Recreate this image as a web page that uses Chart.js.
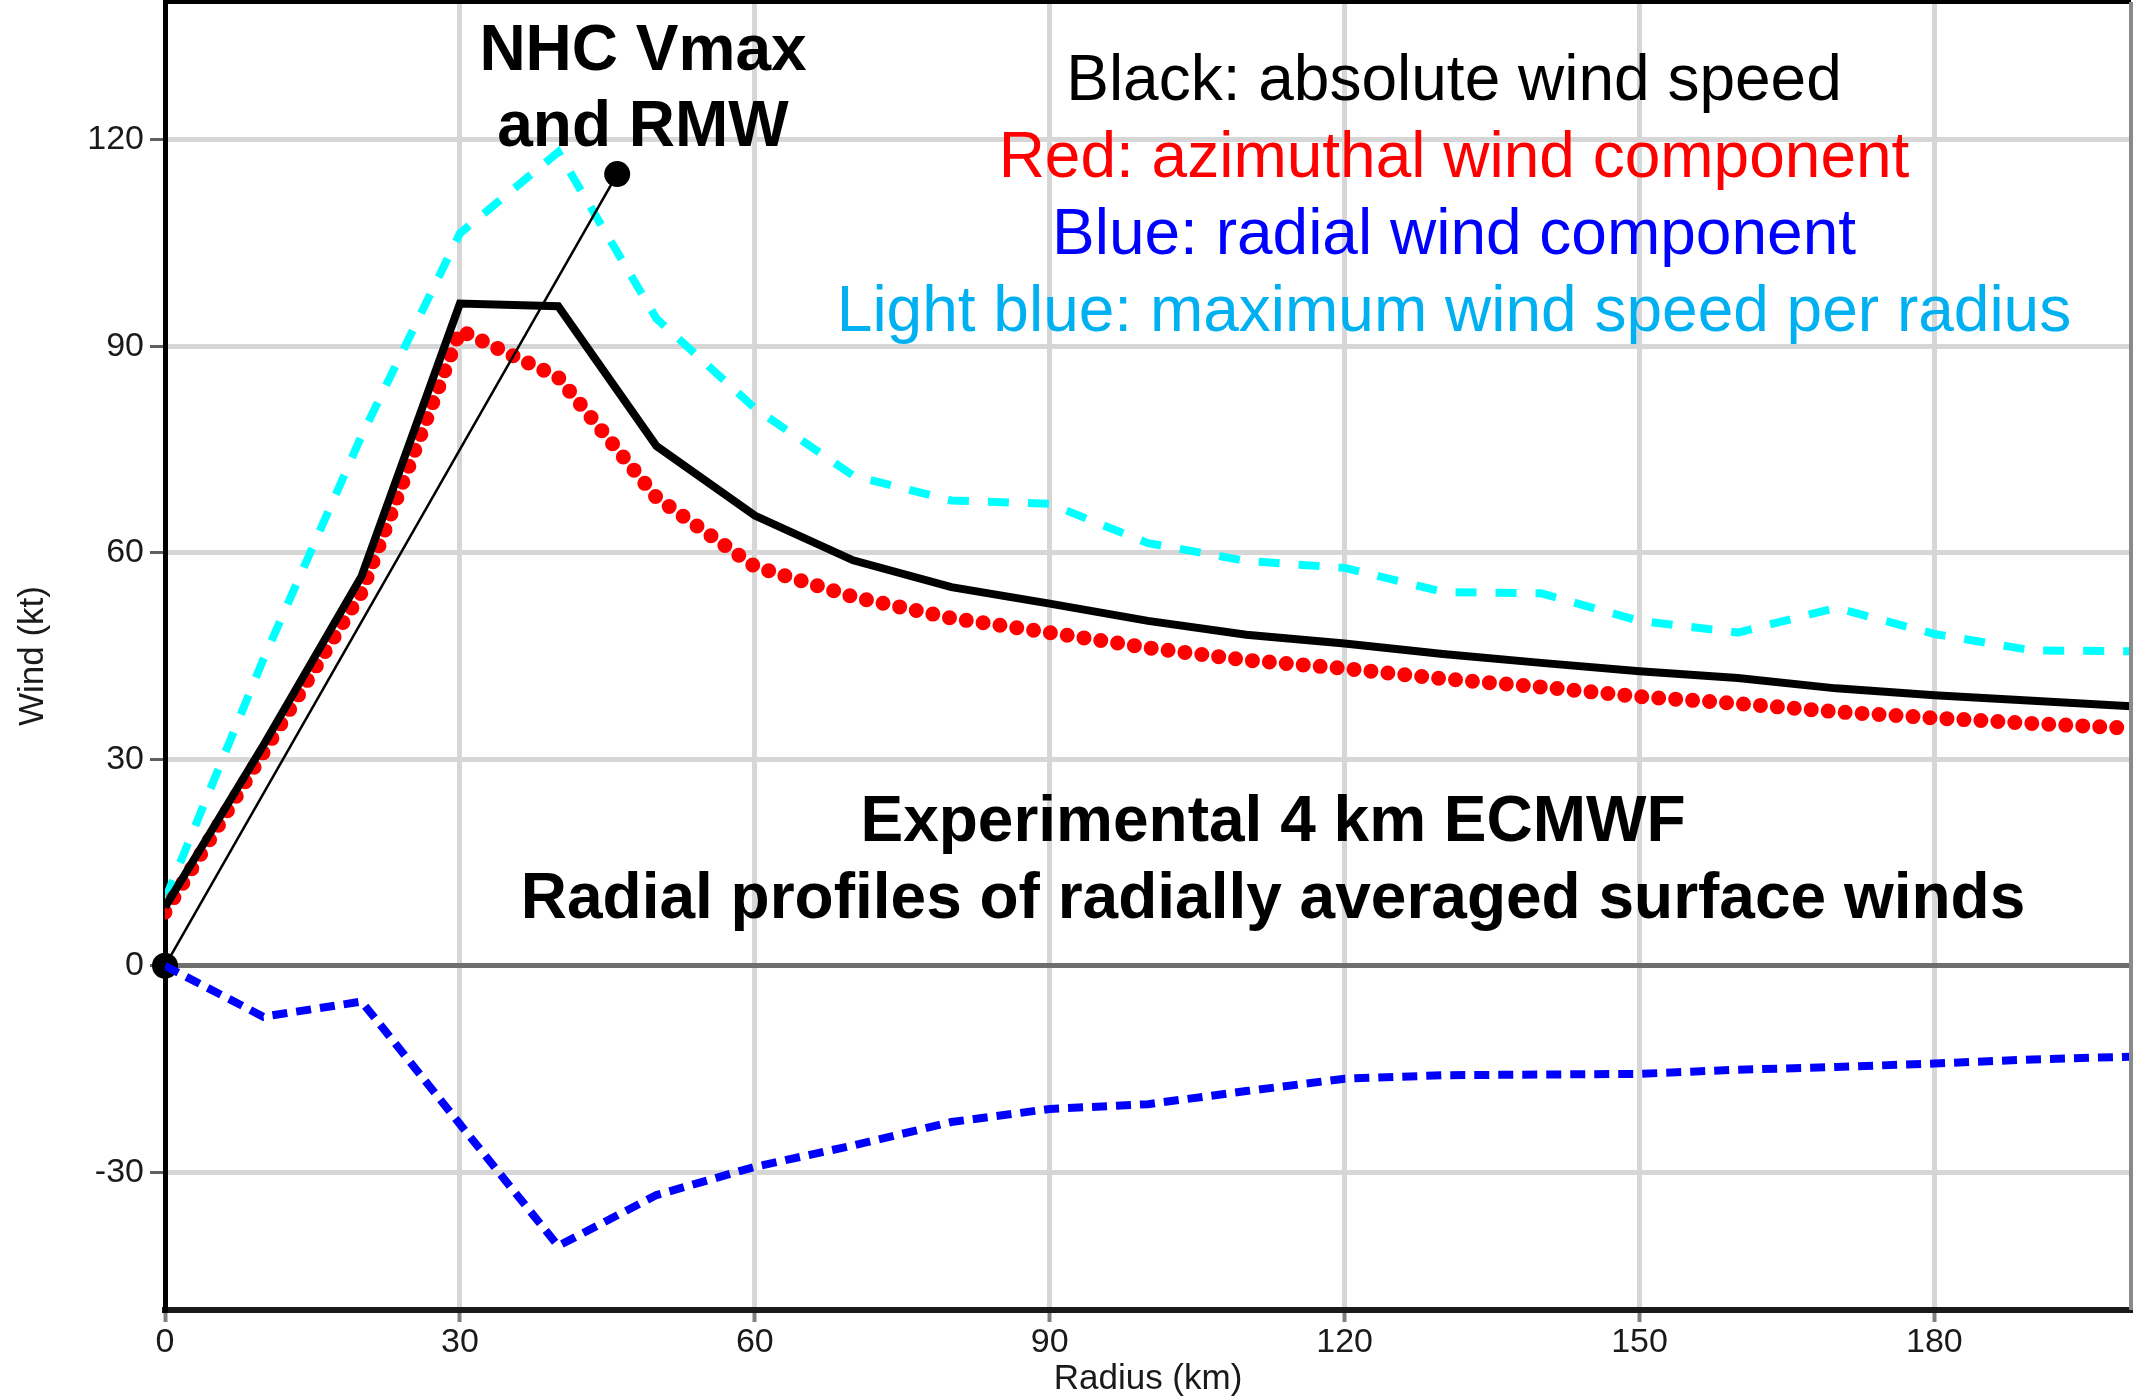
<!DOCTYPE html>
<html>
<head>
<meta charset="utf-8">
<title>Radial profiles of surface winds</title>
<script src="https://cdn.jsdelivr.net/npm/chart.js@4.4.1/dist/chart.umd.min.js"></script>
<style>
  html, body { margin: 0; padding: 0; background: #fff; overflow: hidden; }
  #wrap { width: 2133px; height: 1397px; }
  #windChart { display: block; }
</style>
</head>
<body>
<div id="wrap"><canvas id="windChart" width="2133" height="1397"></canvas></div>
<script>
// radius (km) and the four wind profiles (kt)
const radiusKm = [0, 10, 20, 30, 40, 50, 60, 70, 80, 90, 100, 110, 120, 130, 140, 150, 160, 170, 180, 190, 200];
const absoluteWind = [8.5, 32, 56.6, 96.2, 95.8, 75.5, 65.4, 58.9, 55, 52.6, 50.1, 48.1, 46.8, 45.3, 44, 42.8, 41.8, 40.3, 39.3, 38.5, 37.7];
const azimuthalWind = [7.8, 31, 54.3, 92.3, 85.5, 68, 58, 53.6, 50.5, 48.4, 46.2, 44.4, 43.2, 41.7, 40.5, 39.1, 38.1, 36.9, 36, 35.2, 34.5];
const radialWind = [0, -7.4, -5.2, -23, -40.7, -33.3, -29.2, -26.1, -22.7, -20.8, -20.1, -18.2, -16.4, -15.9, -15.8, -15.7, -15.1, -14.7, -14.2, -13.6, -13.2];
const maxWind = [9.6, 44.5, 77, 106.4, 118.2, 94, 81, 71.2, 67.6, 67.1, 61.4, 58.8, 57.8, 54.3, 54.1, 50.1, 48.4, 52, 48.2, 45.8, 45.7];

// NHC estimate: Vmax (kt) at the radius of maximum wind (km)
const nhcVmax = 115;
const nhcRmw = 46;

const xTicks = [0, 30, 60, 90, 120, 150, 180];
const yTicks = [-30, 0, 30, 60, 90, 120];

const legendLines = [
  { text: 'Black: absolute wind speed', color: '#000000' },
  { text: 'Red: azimuthal wind component', color: '#ff0000' },
  { text: 'Blue: radial wind component', color: '#0000ff' },
  { text: 'Light blue: maximum wind speed per radius', color: '#00b0f0' }
];

function toPoints(values) {
  return values.map((v, i) => ({ x: radiusKm[i], y: v }));
}

const FONT = '"Liberation Sans", Arial, Helvetica, sans-serif';

// frame lines and the text written inside the plot
const plotText = {
  id: 'plotText',
  afterDraw(chart) {
    const ctx = chart.ctx;
    const a = chart.chartArea;
    ctx.save();
    ctx.lineWidth = 4;
    ctx.strokeStyle = '#000';
    ctx.beginPath();
    ctx.moveTo(a.left, a.top);
    ctx.lineTo(a.right, a.top);
    ctx.stroke();
    ctx.strokeStyle = '#8a8a8a';
    ctx.beginPath();
    ctx.moveTo(a.right, a.top);
    ctx.lineTo(a.right, a.bottom);
    ctx.stroke();

    ctx.textAlign = 'center';
    ctx.textBaseline = 'alphabetic';
    ctx.fillStyle = '#000';
    ctx.font = 'bold 64px ' + FONT;
    ctx.fillText('NHC Vmax', 643, 70);
    ctx.fillText('and RMW', 643, 146);

    ctx.font = '64px ' + FONT;
    legendLines.forEach((l, i) => {
      ctx.fillStyle = l.color;
      ctx.fillText(l.text, 1454, 100 + i * 77);
    });

    ctx.fillStyle = '#000';
    ctx.font = 'bold 64px ' + FONT;
    ctx.fillText('Experimental 4 km ECMWF', 1273, 841);
    ctx.fillText('Radial profiles of radially averaged surface winds', 1273, 918);
    ctx.restore();
  }
};

const ctx = document.getElementById('windChart').getContext('2d');

new Chart(ctx, {
  type: 'line',
  data: {
    datasets: [
      {
        label: 'Radial',
        data: toPoints(radialWind),
        borderColor: '#0000ff',
        borderWidth: 8,
        borderDash: [15, 9],
        pointRadius: 0
      },
      {
        label: 'NHC',
        data: [{ x: 0, y: 0 }, { x: nhcRmw, y: nhcVmax }],
        borderColor: '#000',
        borderWidth: 2.5,
        pointRadius: 13,
        pointBackgroundColor: '#000',
        pointBorderWidth: 0,
        clip: false
      },
      {
        label: 'Absolute',
        data: toPoints(absoluteWind),
        borderColor: '#000',
        borderWidth: 8,
        pointRadius: 0
      },
      {
        label: 'Azimuthal',
        data: toPoints(azimuthalWind),
        borderColor: '#ff0000',
        borderWidth: 15,
        borderDash: [0, 17],
        borderCapStyle: 'round',
        pointRadius: 0
      },
      {
        label: 'Max',
        data: toPoints(maxWind),
        borderColor: '#00ffff',
        borderWidth: 8,
        borderDash: [21, 19],
        pointRadius: 0
      }
    ]
  },
  options: {
    responsive: false,
    devicePixelRatio: 1,
    animation: false,
    layout: { autoPadding: false, padding: { top: 2, right: 2, left: 0, bottom: 0 } },
    plugins: {
      legend: { display: false },
      tooltip: { enabled: false }
    },
    scales: {
      x: {
        type: 'linear',
        min: 0,
        max: 200,
        afterBuildTicks: s => { s.ticks = xTicks.map(v => ({ value: v })); },
        afterFit: s => { s.height = 87; s.paddingLeft = 0; s.paddingRight = 0; },
        grid: { color: '#d6d6d6', lineWidth: 5, tickColor: '#808080', tickWidth: 4, tickLength: 12 },
        border: { color: '#1a1a1a', width: 6 },
        ticks: { color: '#1a1a1a', padding: 0, maxRotation: 0, font: { family: FONT, size: 34 } },
        title: { display: true, text: 'Radius (km)', color: '#1a1a1a', padding: 0, font: { family: FONT, size: 35, lineHeight: 1.0 } }
      },
      y: {
        min: -50,
        max: 140,
        afterBuildTicks: s => { s.ticks = yTicks.map(v => ({ value: v })); },
        afterFit: s => { s.width = 165; s.paddingTop = 0; s.paddingBottom = 0; },
        grid: {
          color: c => (c.tick && c.tick.value === 0 ? '#6e6e6e' : '#d6d6d6'),
          lineWidth: 5,
          tickColor: '#606060',
          tickWidth: 3,
          tickLength: 15
        },
        border: { color: '#000', width: 5 },
        ticks: { color: '#1a1a1a', padding: 6, font: { family: FONT, size: 34, lineHeight: 0.1 } },
        title: { display: true, text: 'Wind (kt)', color: '#1a1a1a', padding: { top: 12, bottom: 0 }, font: { family: FONT, size: 35, lineHeight: 1.2 } }
      }
    }
  },
  plugins: [plotText]
});
</script>
</body>
</html>
